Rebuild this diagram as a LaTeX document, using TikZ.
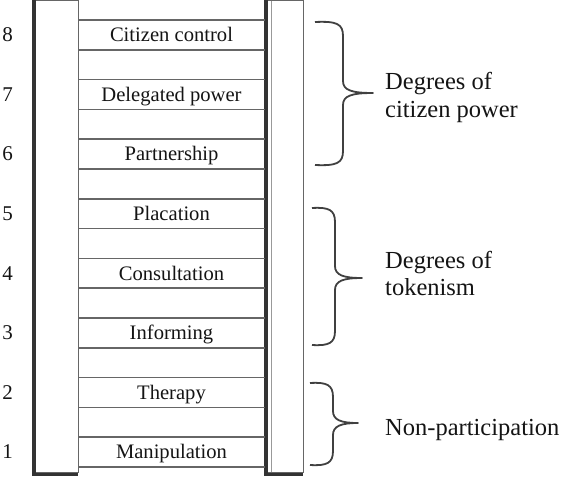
\documentclass[tikz,border=0pt]{standalone}
\usepackage{fontspec}
\setmainfont{Liberation Serif}
\newcommand{\ladderbrace}[6]{%
  \draw[bracestyle] (#1,#4) .. controls (#2-6,#4-1) and (#2,#4+2) .. (#2,#4+14)
    -- (#2,#5-12) .. controls (#2,#5-3) and (#2+8,#5) .. (#3,#5)
    .. controls (#2+8,#5) and (#2,#5+3) .. (#2,#5+12)
    -- (#2,#6-14) .. controls (#2,#6-2) and (#2-6,#6+1) .. (#1,#6);}
\begin{document}
\begin{tikzpicture}[x=1pt,y=-1pt,
  railthin/.style={draw=black!60,line width=1pt},
  railthick/.style={draw=black!80,line width=3.5pt},
  rung/.style={draw=black!60,line width=1.5pt},
  lbl/.style={anchor=base,inner sep=0pt,text=black!92,font=\fontsize{20.6}{24}\selectfont},
  num/.style={anchor=base,inner sep=0pt,text=black!92,font=\fontsize{21}{24}\selectfont},
  grp/.style={anchor=base west,inner sep=0pt,text=black!92,font=\fontsize{24.5}{29}\selectfont},
  bracestyle/.style={draw=black!75,line width=1.8pt,line join=round}]
\useasboundingbox (0,0) rectangle (563,480);
% rails
\draw[railthin] (33,0.5) rectangle (78,472);
\draw[railthick] (34,-2) -- (34,474.5) -- (78,474.5);
\draw[railthin] (265,0.5) rectangle (303,472);
\draw[railthick] (266,-2) -- (266,474.5) -- (303,474.5);
\draw[draw=black!40,line width=0.8pt] (271,0.5) -- (271,472);
% rungs
\foreach \k in {0,...,15}{
  \draw[rung] (78,20+29.8*\k) -- (265,20+29.8*\k);
}
% labels
\node[lbl] (l8) at (171.5,41.7) {Citizen control};
\node[lbl] (l7) at (171.5,101.3) {Delegated power};
\node[lbl] (l6) at (171.5,160.9) {Partnership};
\node[lbl] (l5) at (171.5,220.5) {Placation};
\node[lbl] (l4) at (171.5,280.1) {Consultation};
\node[lbl] (l3) at (171.5,339.7) {Informing};
\node[lbl] (l2) at (171.5,399.3) {Therapy};
\node[lbl] (l1) at (171.5,458.9) {Manipulation};
% numbers
\node[num] (n8) at (7.5,41.7) {8};
\node[num] (n7) at (7.5,101.3) {7};
\node[num] (n6) at (7.5,160.9) {6};
\node[num] (n5) at (7.5,220.5) {5};
\node[num] (n4) at (7.5,280.1) {4};
\node[num] (n3) at (7.5,339.7) {3};
\node[num] (n2) at (7.5,399.3) {2};
\node[num] (n1) at (7.5,458.9) {1};
% braces
\ladderbrace{315}{343}{373}{22}{93}{165}
\ladderbrace{312}{335}{362}{208}{278}{345}
\ladderbrace{310}{333}{358}{383}{423}{465}
% group texts
\node[grp] (g1a) at (385,89) {Degrees of};
\node[grp] (g1b) at (385,117) {citizen power};
\node[grp] (g2a) at (385,268) {Degrees of};
\node[grp] (g2b) at (385,295) {tokenism};
\node[grp] (g3) at (385,435) {Non-participation};
\end{tikzpicture}
\end{document}
